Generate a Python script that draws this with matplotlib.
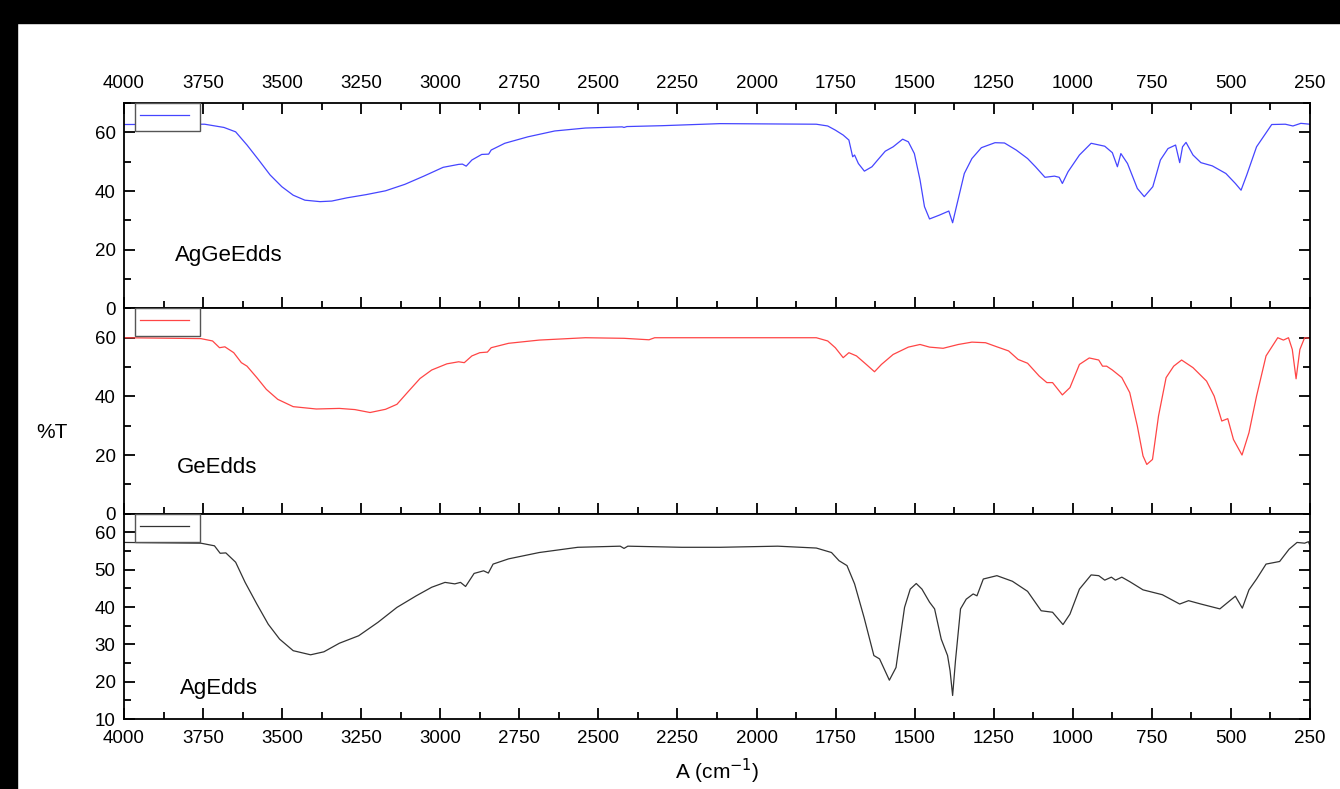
import matplotlib
matplotlib.use("Agg")
import matplotlib.pyplot as plt
from matplotlib.patches import Rectangle
from matplotlib.ticker import MultipleLocator

plt.rcParams['font.family'] = ['Liberation Sans', 'DejaVu Sans']

# FTIR spectra (wavenumber in cm-1, %T)
wn_aggeedds = [4000, 3745, 3684, 3647, 3611, 3574, 3538, 3501, 3465, 3428, 3380, 3343, 3295, 3234,
               3173, 3112, 3052, 2991, 2942, 2930, 2918, 2900, 2869, 2847, 2839, 2796, 2723, 2638,
               2541, 2425, 2419, 2410, 2298, 2115, 1811, 1775, 1751, 1726, 1708, 1696, 1690, 1678,
               1659, 1635, 1617, 1593, 1568, 1538, 1520, 1501, 1483, 1469, 1453, 1422, 1392, 1380,
               1368, 1343, 1319, 1289, 1246, 1216, 1179, 1143, 1118, 1088, 1058, 1043, 1033, 1015,
               979, 942, 899, 875, 859, 848, 827, 796, 774, 747, 723, 699, 675, 662, 653, 642, 620,
               595, 559, 516, 486, 468, 450, 419, 371, 328, 304, 279, 250]
t_aggeedds = [62.7, 62.8, 61.7, 60.2, 55.7, 50.6, 45.5, 41.5, 38.6, 36.9, 36.4, 36.6, 37.7, 38.8,
              40.1, 42.3, 45.1, 48.1, 49.1, 49.2, 48.5, 50.6, 52.5, 52.6, 54.0, 56.3, 58.5, 60.5,
              61.5, 61.9, 61.7, 62.0, 62.3, 63.0, 62.8, 62.2, 60.8, 59.1, 57.4, 51.7, 52.3, 49.4,
              46.8, 48.3, 50.6, 53.6, 55.1, 57.7, 56.8, 52.8, 43.8, 34.7, 30.5, 31.8, 33.2, 29.2,
              34.7, 46.0, 51.1, 54.8, 56.5, 56.4, 54.0, 51.1, 48.3, 44.7, 45.1, 44.7, 42.6, 46.6,
              52.3, 56.3, 55.3, 53.1, 48.3, 52.8, 49.4, 40.9, 38.1, 41.5, 50.6, 54.5, 55.7, 49.7,
              55.1, 56.6, 52.3, 49.7, 48.6, 46.0, 42.6, 40.3, 45.5, 55.1, 62.7, 62.8, 62.2, 63.1, 62.8]

wn_geedds = [4000, 3757, 3720, 3698, 3681, 3653, 3629, 3611, 3580, 3550, 3514, 3465, 3392, 3319,
             3270, 3222, 3173, 3137, 3100, 3064, 3027, 2979, 2942, 2924, 2900, 2875, 2851, 2839,
             2784, 2687, 2541, 2419, 2340, 2322, 2115, 1811, 1775, 1751, 1726, 1708, 1684, 1653,
             1627, 1605, 1568, 1520, 1483, 1453, 1410, 1362, 1319, 1276, 1240, 1203, 1173, 1143,
             1106, 1082, 1064, 1033, 1009, 979, 948, 918, 906, 893, 875, 845, 820, 796, 778, 766,
             748, 729, 705, 681, 656, 620, 577, 553, 529, 510, 492, 465, 443, 419, 389, 352, 334,
             318, 306, 294, 282, 267, 250]
t_geedds = [60.0, 59.7, 58.9, 56.6, 56.9, 54.9, 51.5, 50.3, 46.4, 42.4, 39.0, 36.5, 35.7, 35.9,
            35.5, 34.5, 35.6, 37.3, 41.8, 46.1, 49.0, 51.1, 51.8, 51.5, 53.8, 54.9, 55.1, 56.6,
            58.1, 59.2, 60.0, 59.8, 59.3, 60.0, 60.0, 60.0, 58.9, 56.6, 53.2, 54.9, 53.8, 50.9,
            48.4, 50.9, 54.3, 56.8, 57.7, 56.8, 56.4, 57.7, 58.5, 58.3, 56.9, 55.5, 52.6, 51.3,
            46.9, 44.7, 44.7, 40.5, 43.0, 50.9, 53.1, 52.4, 50.3, 50.3, 49.0, 46.4, 41.3, 29.9,
            19.7, 16.8, 18.5, 33.3, 46.4, 50.3, 52.4, 49.8, 45.2, 40.1, 31.6, 32.4, 25.3, 20.0,
            27.6, 40.1, 53.8, 60.0, 59.2, 60.0, 56.0, 46.0, 56.0, 60.0, 59.8]

wn_agedds = [4000, 3757, 3714, 3696, 3678, 3647, 3617, 3580, 3544, 3508, 3465, 3410, 3368, 3319,
             3258, 3197, 3137, 3076, 3027, 2985, 2954, 2936, 2920, 2893, 2863, 2848, 2833, 2784,
             2687, 2565, 2431, 2419, 2407, 2237, 2115, 1933, 1811, 1763, 1739, 1714, 1690, 1660,
             1629, 1611, 1580, 1559, 1532, 1514, 1495, 1477, 1453, 1437, 1416, 1396, 1388, 1380,
             1371, 1355, 1337, 1315, 1303, 1283, 1240, 1191, 1143, 1100, 1064, 1031, 1009, 979,
             942, 918, 899, 878, 865, 845, 820, 778, 717, 662, 634, 595, 535, 486, 464, 443, 419,
             389, 346, 316, 291, 267, 255, 250]
t_agedds = [57.3, 57.1, 56.4, 54.4, 54.5, 52.0, 46.6, 40.8, 35.4, 31.4, 28.3, 27.2, 28.0, 30.3,
            32.3, 35.9, 39.9, 43.0, 45.3, 46.6, 46.2, 46.6, 45.5, 49.0, 49.7, 49.1, 51.5, 52.9,
            54.6, 56.0, 56.3, 55.7, 56.3, 56.0, 56.0, 56.3, 55.8, 54.6, 52.4, 51.1, 46.2, 37.2,
            27.0, 26.1, 20.4, 23.8, 39.9, 44.8, 46.3, 44.8, 41.3, 39.5, 31.4, 27.0, 22.9, 16.3,
            25.6, 39.5, 42.1, 43.5, 43.0, 47.5, 48.4, 46.9, 44.2, 39.0, 38.6, 35.3, 38.1, 44.8,
            48.6, 48.4, 47.2, 48.0, 47.2, 48.0, 46.8, 44.6, 43.3, 40.8, 41.7, 40.8, 39.5, 42.9,
            39.7, 44.6, 47.5, 51.5, 52.2, 55.5, 57.3, 57.1, 57.5, 56.4]

names = ['AgGeEdds', 'GeEdds', 'AgEdds']
colors = ['#4545ff', '#ff4545', '#333333']
ylims = [(0, 70), (0, 70), (10, 65)]
ymajor = [20, 20, 10]
yminor = [10, 10, 5]
name_pos = [(0.043, 0.26), (0.045, 0.225), (0.047, 0.15)]

series = [(wn_aggeedds, t_aggeedds), (wn_geedds, t_geedds), (wn_agedds, t_agedds)]

fig = plt.figure(figsize=(13.4, 7.89), dpi=100)
fig.patches.append(Rectangle((0, 1 - 23 / 789), 1, 23 / 789, transform=fig.transFigure,
                             color='black', zorder=-1))
fig.patches.append(Rectangle((0, 0), 17 / 1340, 1, transform=fig.transFigure,
                             color='black', zorder=-1))

left, width = 124 / 1340, 1186 / 1340
h = 205.3 / 789
bottom0 = 1 - 719 / 789

for i, ((wn, t), name, c) in enumerate(zip(series, names, colors)):
    ax = fig.add_axes([left, bottom0 + (2 - i) * h, width, h])
    ax.plot(wn, t, color=c, lw=0.9, label=' ')
    ax.set_xlim(4000, 250)
    ax.set_ylim(*ylims[i])
    ax.xaxis.set_major_locator(MultipleLocator(250))
    ax.xaxis.set_minor_locator(MultipleLocator(125))
    ax.yaxis.set_major_locator(MultipleLocator(ymajor[i]))
    ax.yaxis.set_minor_locator(MultipleLocator(yminor[i]))
    for s in ax.spines.values():
        s.set_linewidth(1.3)
    ax.tick_params(which='both', direction='in', right=True, top=(i == 0),
                   labelsize=13.5, width=1.3)
    ax.tick_params(which='major', length=8)
    ax.tick_params(which='minor', length=5)
    ax.tick_params(axis='y', pad=6)
    ax.tick_params(axis='x', pad=8)
    if i == 0:
        ax.tick_params(axis='x', labeltop=True, labelbottom=False)
    elif i == 1:
        ax.tick_params(axis='x', labelbottom=False)
    ax.text(name_pos[i][0], name_pos[i][1], name, transform=ax.transAxes,
            fontsize=16, va='center', ha='left')
    leg = ax.legend(loc='upper left', bbox_to_anchor=(0.0093, 1.0), borderaxespad=0,
                    fancybox=False, fontsize=13, handlelength=2.7, handletextpad=0,
                    borderpad=0.3, framealpha=1)
    leg.get_frame().set_edgecolor('#555555')
    leg.get_frame().set_linewidth(1.0)
    if i == 2:
        ax.set_xlabel('A (cm$^{-1}$)', fontsize=15, labelpad=7)

fig.text(52 / 1340, 1 - 432 / 789, '%T', fontsize=15, va='center', ha='center')

fig.savefig('out.png', dpi=100)
